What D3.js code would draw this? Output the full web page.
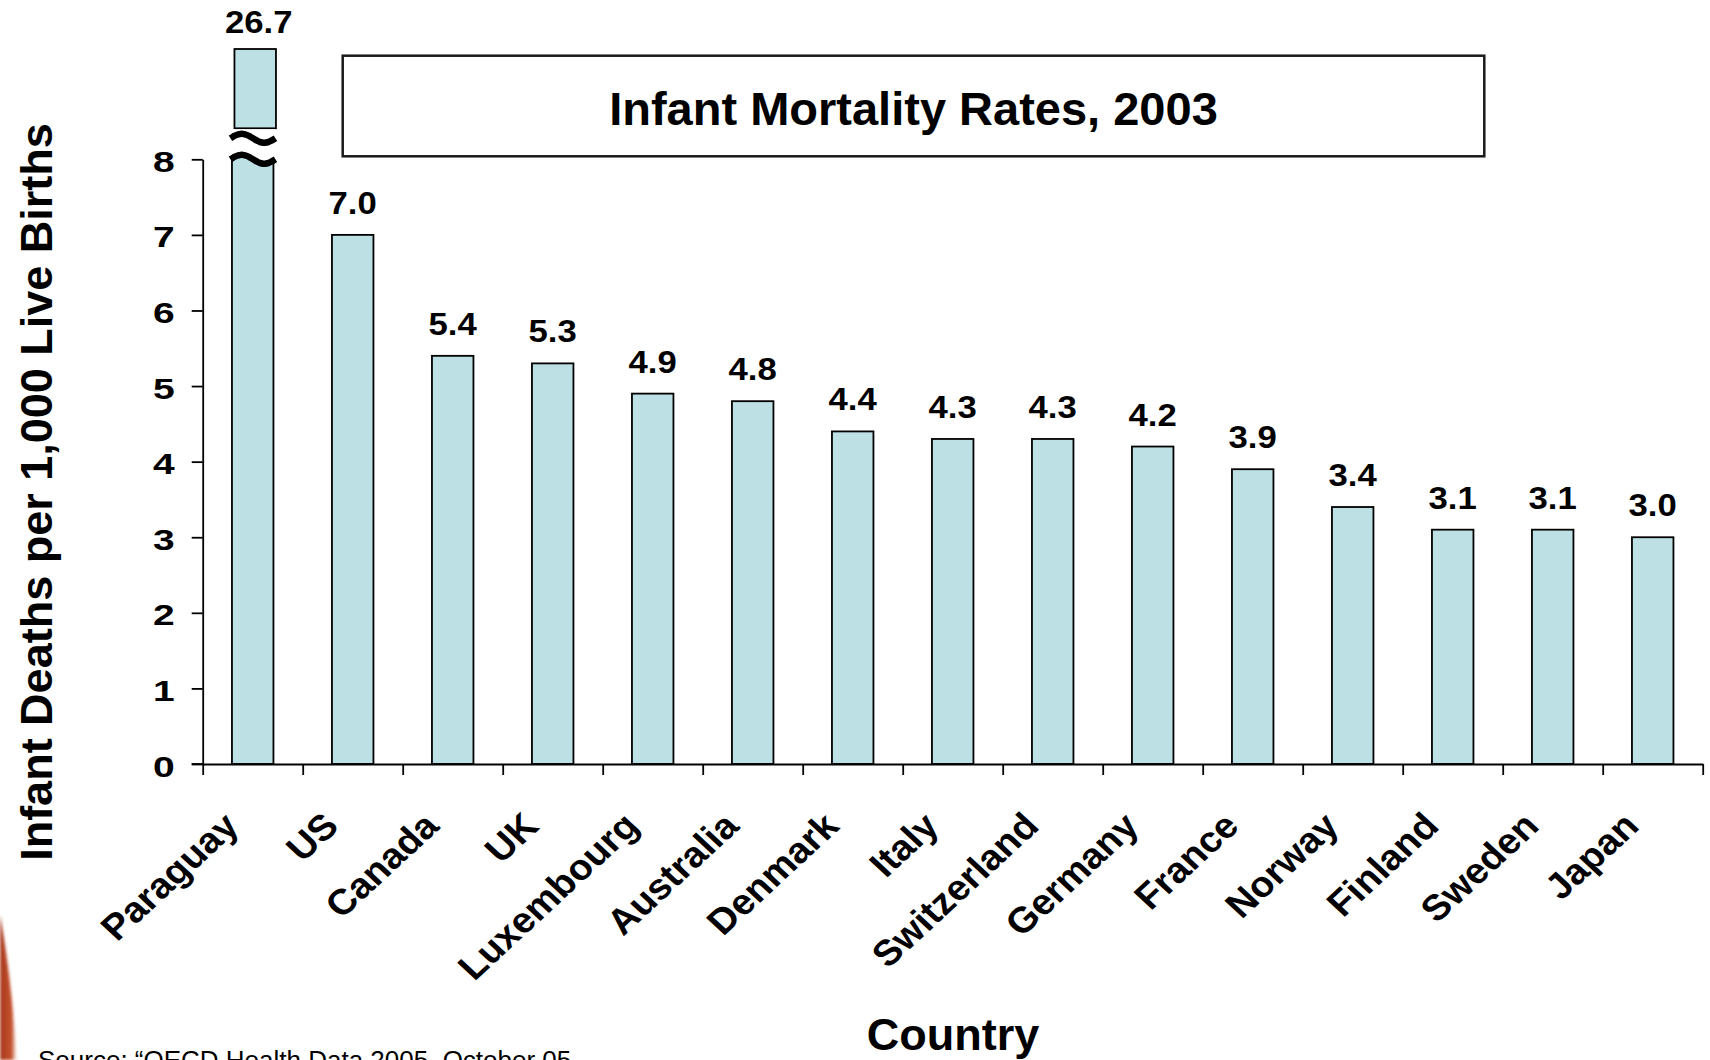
<!DOCTYPE html>
<html><head><meta charset="utf-8">
<script src="https://cdn.jsdelivr.net/npm/d3@7"></script>
<style>
html,body{margin:0;padding:0;background:#fff;}
svg{display:block;font-family:"Liberation Sans",Arial,Helvetica,sans-serif;}
</style></head><body>
<svg id="chart" width="1710" height="1060"></svg>
<script>
// Infant deaths per 1,000 live births, 2003
const countries = ["Paraguay","US","Canada","UK","Luxembourg","Australia","Denmark","Italy","Switzerland","Germany","France","Norway","Finland","Sweden","Japan"];
const rates = [26.7,7.0,5.4,5.3,4.9,4.8,4.4,4.3,4.3,4.2,3.9,3.4,3.1,3.1,3.0];
const yTicks = [0,1,2,3,4,5,6,7,8];
const axisMax = 8; // bars taller than this are drawn broken
const chartTitle = "Infant Mortality Rates, 2003";
const yTitle = "Infant Deaths per 1,000 Live Births";
const xTitle = "Country";
const sourceNote = "Source: \u201cOECD Health Data 2005, October 05";

const svg = d3.select("#chart");
const left = 202.7, right = 1702.7, bottom = 764, axisTop = 159.3, brokenTop = 49;
const barFill = "#bce0e3";

const data = countries.map((c, i) => ({country: c, value: rates[i]}));

const x = d3.scaleBand().domain(countries).range([left, right])
  .paddingInner(0.585).paddingOuter(0.2925);
const y = d3.scaleLinear().domain([0, axisMax]).range([bottom, axisTop]);
// compressed scale above the break, used only for bars beyond the axis
const yBar = d3.scaleLinear().domain([0, axisMax, d3.max(rates)]).range([bottom, axisTop, brokenTop]);

// decorative swoosh at the lower-left corner
const defs = svg.append("defs");
const grad = defs.append("linearGradient").attr("id", "swoosh").attr("x1", 0).attr("x2", 1).attr("y1", 0).attr("y2", 0);
grad.append("stop").attr("offset", "0%").attr("stop-color", "#a8361c");
grad.append("stop").attr("offset", "70%").attr("stop-color", "#c4532e");
grad.append("stop").attr("offset", "100%").attr("stop-color", "#f3d6c8").attr("stop-opacity", 0.3);
defs.append("filter").attr("id", "soft").append("feGaussianBlur").attr("stdDeviation", 1.8);
svg.append("path")
  .attr("d", "M0,915 Q11,975 17,1060 L0,1060 Z")
  .attr("fill", "url(#swoosh)").attr("filter", "url(#soft)");

// bars
const bars = svg.append("g");
data.forEach(d => {
  const bx = x(d.country), bw = x.bandwidth();
  if (d.value <= axisMax) {
    bars.append("rect").attr("x", bx).attr("y", yBar(d.value))
      .attr("width", bw).attr("height", bottom - yBar(d.value))
      .attr("fill", barFill).attr("stroke", "#000").attr("stroke-width", 1.8);
  } else {
    const breakHi = y(axisMax) - 31, breakLo = y(axisMax) + 2;
    bars.append("rect").attr("x", bx).attr("y", breakLo - 12)
      .attr("width", bw).attr("height", bottom - breakLo + 12)
      .attr("fill", barFill).attr("stroke", "#000").attr("stroke-width", 1.8);
    bars.append("rect").attr("x", bx + 2.5).attr("y", yBar(d.value))
      .attr("width", bw).attr("height", breakHi - yBar(d.value))
      .attr("fill", barFill).attr("stroke", "#000").attr("stroke-width", 1.8);
    // break marks: white gap bordered by two waves
    const x0 = bx - 1.5, x1 = bx + bw + 2, amp = 4.5;
    const wave = cy => d3.range(0, 1.0001, 0.05).map(t => [x0 + (x1 - x0) * t, cy - amp * Math.sin(2 * Math.PI * t)]);
    const w1 = wave(breakHi + 10), w2 = wave(breakHi + 31);
    bars.append("path").attr("d", d3.line()(w1.concat(w2.slice().reverse())) + "Z")
      .attr("fill", "#fff");
    bars.append("rect").attr("x", x0).attr("y", breakHi + 1).attr("width", x1 - x0).attr("height", 9).attr("fill", "#fff");
    [w1, w2].forEach(w => bars.append("path").attr("d", d3.line().curve(d3.curveBasis)(w))
      .attr("fill", "none").attr("stroke", "#000").attr("stroke-width", 6.5));
  }
});

// value labels (chart text is set slightly wide)
svg.append("g").selectAll("text").data(data).join("text")
  .attr("transform", d => `translate(${x(d.country) + x.bandwidth() / 2 + (d.value > axisMax ? 6 : 0)},${yBar(d.value) - (d.value > axisMax ? 16 : 21)}) scale(1.12,1)`)
  .attr("text-anchor", "middle").attr("font-size", 31).attr("font-weight", "bold")
  .text(d => d.value.toFixed(1));

// y axis
const yAxis = svg.append("g").attr("transform", `translate(${left},0)`)
  .call(d3.axisLeft(y).tickValues(yTicks).tickFormat(d3.format("d")).tickSize(11).tickSizeOuter(0));
yAxis.selectAll("path,line").attr("stroke", "#000").attr("stroke-width", 1.8);
yAxis.selectAll("text").attr("font-size", 30).attr("font-weight", "bold").attr("fill", "#000")
  .attr("font-family", "Liberation Sans, Arial, sans-serif")
  .attr("x", 0).attr("dy", "0.4em").attr("transform", "translate(-28,0) scale(1.3,1)");

// x axis: ticks on category boundaries
const xb = d3.scaleLinear().domain([0, countries.length]).range([left, right]);
const xAxis = svg.append("g").attr("transform", `translate(0,${bottom})`)
  .call(d3.axisBottom(xb).tickValues(d3.range(countries.length + 1)).tickFormat("").tickSize(11).tickSizeOuter(0));
xAxis.selectAll("path,line").attr("stroke", "#000").attr("stroke-width", 1.8);
// extend baseline to the zero tick
svg.append("line").attr("x1", left - 11).attr("x2", left).attr("y1", bottom).attr("y2", bottom)
  .attr("stroke", "#000").attr("stroke-width", 1.8);

// category labels
svg.append("g").selectAll("text").data(countries).join("text")
  .attr("transform", c => `translate(${x(c) + x.bandwidth() / 2 - 12},${bottom + 64}) scale(1.08,1) rotate(-45)`)
  .attr("text-anchor", "end").attr("font-size", 36).attr("font-weight", "bold")
  .text(c => c);

// axis titles
svg.append("text").attr("transform", "translate(52,492) rotate(-90)")
  .attr("text-anchor", "middle").attr("font-size", 45).attr("font-weight", "bold").text(yTitle);
svg.append("text").attr("x", 953).attr("y", 1050)
  .attr("text-anchor", "middle").attr("font-size", 45).attr("font-weight", "bold").text(xTitle);

// title box
svg.append("rect").attr("x", 342.7).attr("y", 55.7).attr("width", 1141.6).attr("height", 100.6)
  .attr("fill", "#fff").attr("stroke", "#1a1a1a").attr("stroke-width", 2.5);
svg.append("text").attr("x", 913.5).attr("y", 125)
  .attr("text-anchor", "middle").attr("font-size", 47).attr("font-weight", "bold").text(chartTitle);

// source note
svg.append("text").attr("x", 38).attr("y", 1069).attr("font-size", 26).text(sourceNote);
</script>
</body></html>
